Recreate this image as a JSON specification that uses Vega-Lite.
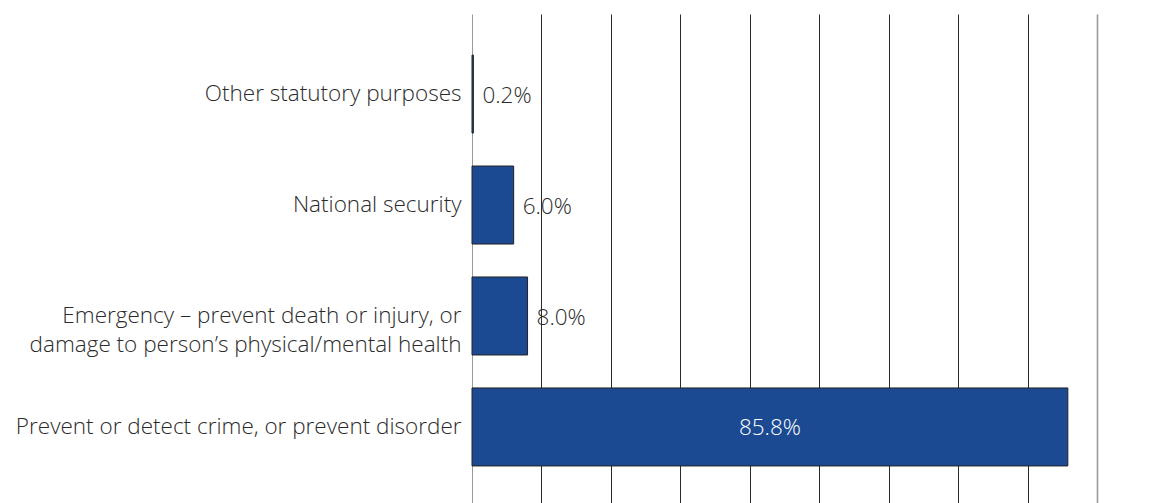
{
  "$schema": "https://vega.github.io/schema/vega-lite/v6.json",
  "autosize": {"type": "none"},
  "width": 625,
  "height": 493,
  "padding": {"left": 472, "top": 14, "right": 56, "bottom": 0},
  "background": "white",
  "config": {"view": {"stroke": null}, "font": "Open Sans"},
  "data": {
    "values": [
      {"purpose": "Other statutory purposes", "share": 0.2, "label": "0.2%"},
      {"purpose": "National security", "share": 6.0, "label": "6.0%"},
      {"purpose": "Emergency – prevent death or injury, or|damage to person’s physical/mental health", "share": 8.0, "label": "8.0%"},
      {"purpose": "Prevent or detect crime, or prevent disorder", "share": 85.8, "label": "85.8%"}
    ]
  },
  "encoding": {
    "y": {
      "field": "purpose",
      "type": "nominal",
      "sort": [
        "Other statutory purposes",
        "National security",
        "Emergency – prevent death or injury, or|damage to person’s physical/mental health",
        "Prevent or detect crime, or prevent disorder"
      ],
      "scale": {"paddingInner": 0.297, "paddingOuter": 0.37},
      "axis": {
        "title": null,
        "domain": false,
        "ticks": false,
        "labelPadding": 11,
        "labelFontSize": 22.5,
        "labelFontWeight": 300,
        "labelColor": "#2b2b2b",
        "labelFont": "Open Sans",
        "labelLimit": 480,
        "labelExpr": "split(datum.label, '|')",
        "labelLineHeight": 29
      }
    },
    "x": {
      "field": "share",
      "type": "quantitative",
      "scale": {"domain": [0, 90], "nice": false},
      "axis": {
        "title": null,
        "labels": false,
        "ticks": false,
        "domain": false,
        "values": [0, 10, 20, 30, 40, 50, 60, 70, 80, 90],
        "grid": true,
        "gridColor": {"condition": {"test": "datum.value == 0 || datum.value == 90", "value": "#9a9a9a"}, "value": "#2a2a2a"},
        "gridWidth": {"condition": {"test": "datum.value == 90", "value": 1.6}, "value": 1},
        "gridOpacity": 1
      }
    }
  },
  "layer": [
    {
      "mark": {"type": "bar", "color": "#1b4a93", "stroke": "#222222", "strokeWidth": 1}
    },
    {
      "transform": [{"filter": "datum.share < 50"}],
      "mark": {"type": "text", "align": "left", "baseline": "middle", "dx": 9, "dy": 2, "fontSize": 22.5, "fontWeight": 300, "color": "#2b2b2b"},
      "encoding": {"text": {"field": "label"}}
    },
    {
      "transform": [{"filter": "datum.share >= 50"}],
      "mark": {"type": "text", "align": "center", "baseline": "middle", "dy": 1, "fontSize": 22.5, "fontWeight": 300, "color": "#ffffff"},
      "encoding": {
        "x": {"datum": 42.9, "type": "quantitative"},
        "text": {"field": "label"}
      }
    }
  ]
}
